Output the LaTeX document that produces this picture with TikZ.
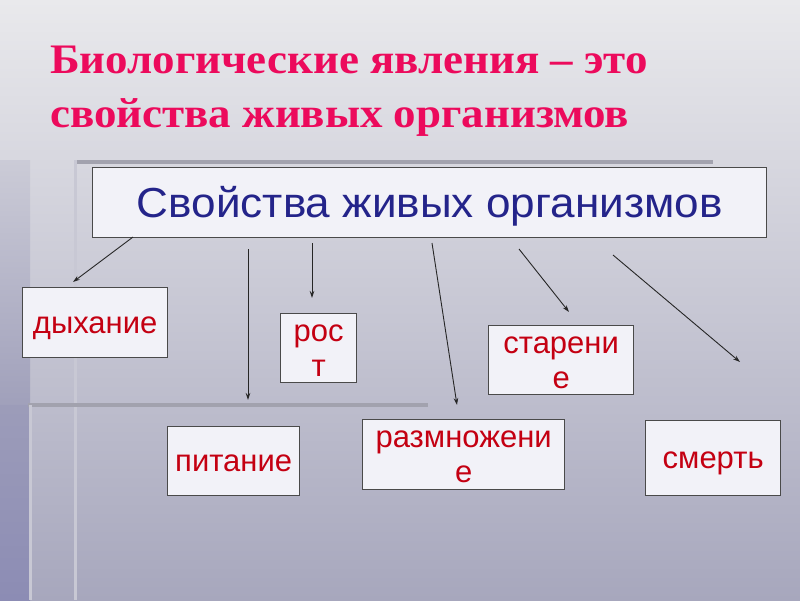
\documentclass[tikz,border=0pt]{standalone}
\usepackage{fontspec}
\setmainfont{Liberation Sans}
\newfontfamily\titlefont[FakeStretch=1.07]{Liberation Serif}
\newfontfamily\headfont[FakeStretch=1.05]{Liberation Sans}
\usetikzlibrary{arrows.meta}
\definecolor{bgtop}{HTML}{E9E9EC}
\definecolor{bgbot}{HTML}{A7A7BD}
\definecolor{bgleft}{HTML}{8C8CB4}
\definecolor{ctitle}{HTML}{EC0A5C}
\definecolor{cnavy}{HTML}{24248A}
\definecolor{cred}{HTML}{C40012}
\definecolor{cedge}{HTML}{4A4A4A}
\definecolor{cfill}{HTML}{F2F2F8}
\definecolor{cdeco}{HTML}{A2A2AE}
\definecolor{clight}{HTML}{C8C8D4}
\tikzset{
  every picture/.style={x=1pt, y=-1pt},
  box/.style={draw=cedge, fill=cfill, line width=1.3pt, inner sep=0pt, align=center, anchor=north west},
  item/.style={box, text=cred, font=\fontsize{31}{35}\selectfont, text depth=6pt},
  arrow/.style={-{Stealth[length=7pt, width=4.5pt]}, draw=black!85, line width=0.9pt},
  title/.style={font=\titlefont\bfseries\fontsize{42}{54}\selectfont, text=ctitle, anchor=base west, inner sep=0pt},
}

\begin{document}
\begin{tikzpicture}
  \useasboundingbox (0,0) rectangle (800,600);
  % background
  \fill[top color=bgtop, bottom color=bgbot] (0,0) rectangle (800,600);
  \fill[top color=bgtop!55!bgbot, bottom color=bgbot!75!bgleft] (0,160) rectangle (30,405);
  \fill[top color=bgbot!60!bgleft, bottom color=bgleft] (0,405) rectangle (30,600);
  \draw[cdeco, line width=4pt] (75,162) -- (713,162);
  \draw[clight, line width=3pt] (75,160) -- (75,600);
  \draw[cdeco, line width=4pt] (28,405) -- (428,405);
  \draw[clight, line width=3pt] (30,405) -- (30,600);
  % heading
  \node[title] (head1) at (50,73) {Биологические явления – это};
  \node[title] (head2) at (50,127) {свойства живых организмов};
  % the main box
  \node[box, text=cnavy, font=\headfont\fontsize{42}{48}\selectfont, text height=38pt, text depth=9pt, minimum width=674, minimum height=70] (props) at (92,167) {Свойства живых организмов};
  % arrows
  \foreach \i/\xa/\ya/\xb/\yb in {1/133/237/73/282, 2/248/249/248/400, 3/312/243/312/298, 4/432/243/457/405, 5/519/249/569/312, 6/613/255/740/362}
    { \coordinate (from\i) at (\xa,\ya);
      \coordinate (to\i) at (\xb,\yb);
      \draw[arrow] (from\i) -- (to\i); }
  % the properties (last field: height of the text above the last baseline)
  \foreach \n/\x/\y/\w/\h/\t/\th in {breath/22/287/145/70/дыхание/27, growth/280/313/76/69/{рос\\т}/62, aging/488/325/145/69/{старени\\е}/62, food/167/426/132/69/питание/27, repro/362/419/202/70/{размножени\\е}/61, death/645/420/135/75/смерть/27}
    { \node[item, text height=\th pt, minimum width=\w, minimum height=\h] (\n) at (\x,\y) {\t}; }
\end{tikzpicture}
\end{document}
